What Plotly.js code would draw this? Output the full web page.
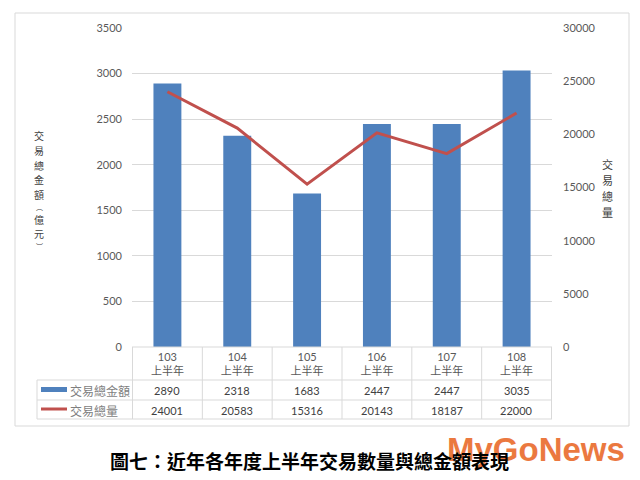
<!DOCTYPE html>
<html><head><meta charset="utf-8">
<script src="https://cdn.plot.ly/plotly-3.0.1.min.js"></script>
<style>html,body{margin:0;padding:0;background:#fff;}#chart{width:640px;height:480px;}</style>
</head><body><div id="chart"></div>
<script>
const years = ['103','104','105','106','107','108'];
const halfLabel = '上半年';
const amount = [2890, 2318, 1683, 2447, 2447, 3035];
const volume = [24001, 20583, 15316, 20143, 18187, 22000];
const amountName = '交易總金額';
const volumeName = '交易總量';
const leftTitle = ['交','易','總','金','額','︵','億','元','︶'];
const rightTitle = ['交','易','總','量'];
const caption = '圖七：近年各年度上半年交易數量與總金額表現';
const watermark = 'MyGoNews';

const W = 640, H = 480, L = 132, R = 552, T = 28, B = 347;
const px = X => (X - L) / (R - L);
const py = Y => (B - Y) / (B - T);

const cats = years.map(y => y + '<br>' + halfLabel);
const font = 'Lato, "Noto Sans CJK TC", sans-serif';
const cjk = '"Noto Sans CJK TC", sans-serif';

const traces = [
  {type: 'bar', x: cats, y: amount, name: amountName, marker: {color: '#4F81BD'}, yaxis: 'y', hoverinfo: 'skip'},
  {type: 'scatter', mode: 'lines', x: cats, y: volume, name: volumeName, line: {color: '#C0504D', width: 3}, yaxis: 'y2', hoverinfo: 'skip'}
];

const shapes = [];
const annotations = [];
const gridCol = '#D9D9D9';
// outer frame
shapes.push({type: 'rect', xref: 'paper', yref: 'paper', x0: px(15), x1: px(629), y0: py(426), y1: py(13), line: {color: gridCol, width: 1}});
// table horizontal lines
shapes.push({type: 'line', xref: 'paper', yref: 'paper', x0: 0, x1: 1, y0: py(347), y1: py(347), line: {color: gridCol, width: 1}});
[380, 400, 419].forEach(Y => shapes.push({type: 'line', xref: 'paper', yref: 'paper', x0: px(37), x1: 1, y0: py(Y), y1: py(Y), line: {color: gridCol, width: 1}}));
// vertical lines
shapes.push({type: 'line', xref: 'paper', yref: 'paper', x0: px(37), x1: px(37), y0: py(380), y1: py(419), line: {color: gridCol, width: 1}});
for (let k = 0; k <= years.length; k++) {
  shapes.push({type: 'line', xref: 'x', yref: 'paper', x0: k - 0.5, x1: k - 0.5, y0: py(347), y1: py(419), line: {color: gridCol, width: 1}});
}
// legend swatches
shapes.push({type: 'rect', xref: 'paper', yref: 'paper', x0: px(41), x1: px(67), y0: py(392), y1: py(387), fillcolor: '#4F81BD', line: {width: 0}});
shapes.push({type: 'line', xref: 'paper', yref: 'paper', x0: px(41), x1: px(67), y0: py(409), y1: py(409), line: {color: '#C0504D', width: 3}});

// legend labels
annotations.push({xref: 'paper', yref: 'paper', x: px(68), y: py(390), xanchor: 'left', yanchor: 'middle', text: amountName, showarrow: false, font: {family: cjk, size: 12, color: '#7F7F7F'}});
annotations.push({xref: 'paper', yref: 'paper', x: px(68), y: py(410), xanchor: 'left', yanchor: 'middle', text: volumeName, showarrow: false, font: {family: cjk, size: 12, color: '#7F7F7F'}});
// table values
cats.forEach((c, i) => {
  annotations.push({xref: 'x', yref: 'paper', x: i, y: py(390), yanchor: 'middle', text: String(amount[i]), showarrow: false, font: {family: font, size: 11, color: '#404040'}});
  annotations.push({xref: 'x', yref: 'paper', x: i, y: py(410), yanchor: 'middle', text: String(volume[i]), showarrow: false, font: {family: font, size: 11, color: '#404040'}});
});
// axis titles (vertical, one glyph per row, spaced so rows do not collide)
const ROW = 1.46;
const isBracket = ch => ch === '︵' || ch === '︶';
const leftSizes = leftTitle.map(ch => isBracket(ch) ? 7 : 10);
const leftTotal = leftSizes.reduce((a, s) => a + s * ROW, 0);
let cursor = 190 - leftTotal / 2;
leftTitle.forEach((ch, i) => {
  const h = leftSizes[i] * ROW;
  const Y = cursor + h / 2;
  cursor += h;
  annotations.push({xref: 'paper', yref: 'paper', x: px(39), y: py(Y), xanchor: 'center', yanchor: 'middle', text: ch, showarrow: false, borderpad: 0, font: {family: cjk, size: leftSizes[i], color: '#404040'}});
});
const rightStep = 16, rightMid = 188;
rightTitle.forEach((ch, i) => {
  const Y = rightMid + (i - (rightTitle.length - 1) / 2) * rightStep;
  annotations.push({xref: 'paper', yref: 'paper', x: px(607), y: py(Y), xanchor: 'center', yanchor: 'middle', text: ch, showarrow: false, borderpad: 0, font: {family: cjk, size: 11, color: '#404040'}});
});
// watermark
annotations.push({xref: 'paper', yref: 'paper', x: px(536), y: py(449), xanchor: 'center', yanchor: 'middle', text: '<b>' + watermark + '</b>', showarrow: false, font: {family: '"Liberation Sans", Arial, sans-serif', size: 33, color: '#E8621E'}, opacity: 0.85});
// caption
annotations.push({xref: 'paper', yref: 'paper', x: px(309), y: py(461), xanchor: 'center', yanchor: 'middle', text: '<b>' + caption + '</b>', showarrow: false, font: {family: cjk, size: 19, color: '#000000'}});

const layout = {
  width: W, height: H,
  margin: {l: L, r: W - R, t: T, b: H - B, pad: 0},
  paper_bgcolor: '#ffffff', plot_bgcolor: '#ffffff',
  showlegend: false,
  bargap: 0.6,
  xaxis: {type: 'category', showgrid: false, zeroline: false, showline: false, ticks: '', tickfont: {family: font, size: 11, color: '#595959'}, ticklabelstandoff: 2, fixedrange: true},
  yaxis: {range: [0, 3500], dtick: 500, tickformat: 'd', showgrid: true, gridcolor: gridCol, gridwidth: 1, zeroline: false, showline: false, ticks: '', tickfont: {family: font, size: 11, color: '#595959'}, ticklabelstandoff: 9, fixedrange: true},
  yaxis2: {range: [0, 30000], dtick: 5000, tickformat: 'd', overlaying: 'y', side: 'right', showgrid: false, zeroline: false, showline: false, ticks: '', tickfont: {family: font, size: 11, color: '#595959'}, ticklabelstandoff: 10, fixedrange: true},
  shapes: shapes,
  annotations: annotations
};

Plotly.newPlot('chart', traces, layout, {displayModeBar: false, staticPlot: true});
</script>
</body></html>
